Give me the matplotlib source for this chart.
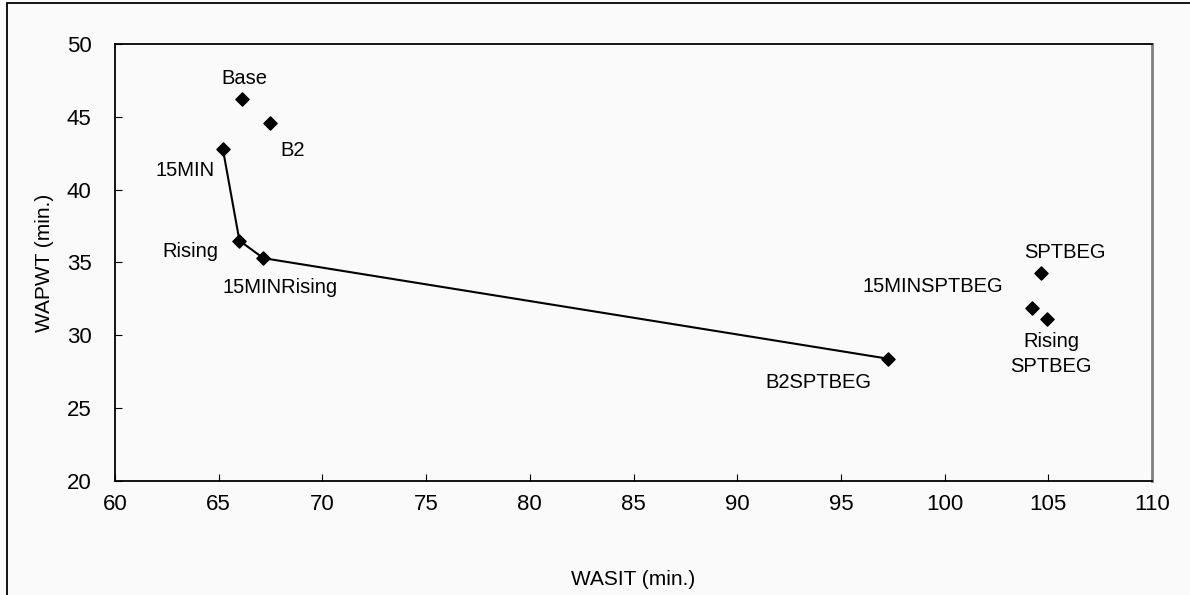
import matplotlib.pyplot as plt
from matplotlib.patches import Rectangle

plt.rcParams['font.family'] = ['Liberation Sans Narrow', 'Liberation Sans', 'DejaVu Sans']

# scenarios : WASIT (x), WAPWT (y)
noms = ['Base', 'B2', '15MIN', 'Rising', '15MINRising', 'B2SPTBEG',
        'SPTBEG', '15MINSPTBEG', 'Rising\nSPTBEG']
wasit = [66.1, 67.45, 65.2, 66.0, 67.15, 97.25, 104.65, 104.2, 104.95]
wapwt = [46.2, 44.55, 42.8, 36.5, 35.3, 28.4, 34.25, 31.85, 31.1]

# front reliant les scenarios
front = ['15MIN', 'Rising', '15MINRising', 'B2SPTBEG']

# decalage des etiquettes (pixels)
decal = {'Base': (3, 21), 'B2': (23, -27), '15MIN': (-38, -22),
         'Rising': (-49, -11), '15MINRising': (17, -29), 'B2SPTBEG': (-69, -24),
         'SPTBEG': (24, 21), '15MINSPTBEG': (-99, 22), 'Rising\nSPTBEG': (4, -35)}

fig = plt.figure(figsize=(11.9, 5.95), dpi=100, facecolor='#fafafa')
ax = fig.add_axes([115/1190, 1-481/595, (1152-115)/1190, (481-44)/595])
ax.set_facecolor('#fafafa')

fig.patches.append(Rectangle((7/1190, -0.02), 1.0, 1.02 - 3/595, transform=fig.transFigure,
                             fill=False, edgecolor='black', linewidth=1.3))

fx = [wasit[noms.index(n)] for n in front]
fy = [wapwt[noms.index(n)] for n in front]
ax.plot(fx, fy, color='black', linewidth=1.5, zorder=2)
ax.scatter(wasit, wapwt, marker='D', s=45, color='black', zorder=3)

for n, x, y in zip(noms, wasit, wapwt):
    ax.annotate(n, (x, y), xytext=decal[n], textcoords='offset pixels',
                ha='center', va='center', fontsize=14.5, linespacing=1.4)

ax.set_xlim(60, 110)
ax.set_ylim(20, 50)
ax.set_xticks(range(60, 111, 5))
ax.set_yticks(range(20, 51, 5))
ax.tick_params(direction='in', length=5, labelsize=16)
ax.tick_params(axis='x', pad=9)
ax.tick_params(axis='y', pad=17)

ax.set_xlabel('WASIT (min.)', fontsize=15, labelpad=40)
ax.set_ylabel('WAPWT (min.)', fontsize=15, labelpad=9)

for s in ['left', 'bottom', 'top']:
    ax.spines[s].set_color('black')
    ax.spines[s].set_linewidth(1.3)
ax.spines['right'].set_color('#808080')
ax.spines['right'].set_linewidth(2)

fig.savefig('out.png', dpi=100, facecolor=fig.get_facecolor())
